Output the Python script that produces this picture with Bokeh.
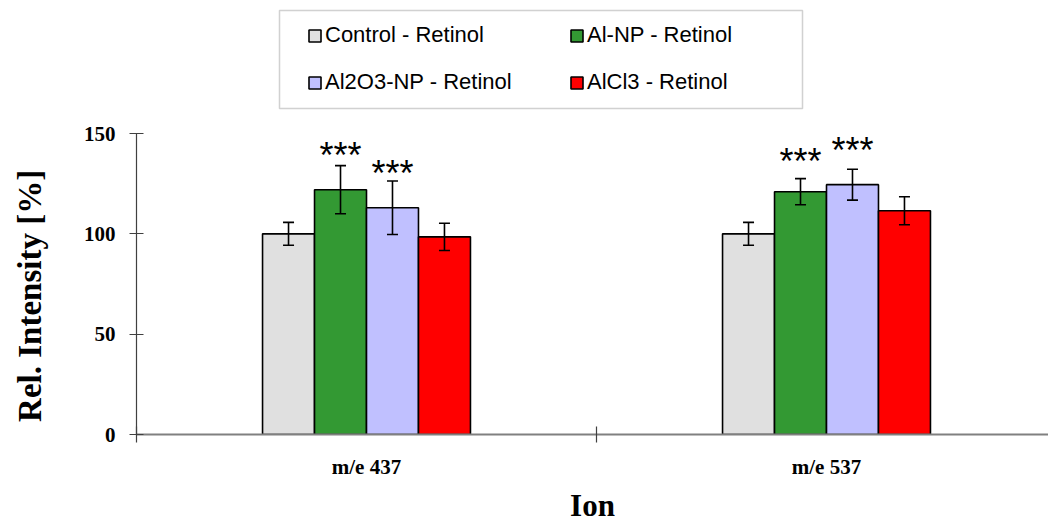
from bokeh.plotting import figure
from bokeh.models import (ColumnDataSource, Range1d, LinearAxis, FixedTicker, Whisker, TeeHead,
                          Legend, LegendItem, BoxAnnotation)
from bokeh.core.properties import value
from bokeh.embed import file_html
from bokeh.resources import INLINE

# ---------------- data ----------------
categories = ["m/e 437", "m/e 537"]
series_names = ["Control - Retinol", "Al-NP - Retinol", "Al2O3-NP - Retinol", "AlCl3 - Retinol"]
control_vals = [100.0, 100.0]
alnp_vals = [122.0, 121.0]
al2o3_vals = [113.0, 124.5]
alcl3_vals = [98.5, 111.5]
control_err = [5.7, 5.7]
alnp_err = [12.0, 6.5]
al2o3_err = [13.3, 7.7]
alcl3_err = [6.8, 7.0]
# significance marks: (category index, series index, label, height of mark centre)
sig_cat = [0, 0, 1, 1]
sig_series = [1, 2, 1, 2]
sig_text = ["***", "***", "***", "***"]
sig_y = [141.5, 132.5, 138.3, 144.0]
y_ticks = [0, 50, 100, 150]
legend_order = [0, 2, 1, 3]   # legend is filled column by column

colors = ["#E0E0E0", "#339933", "#C0C0FF", "#FF0000"]
values = [control_vals, alnp_vals, al2o3_vals, alcl3_vals]
errors = [control_err, alnp_err, al2o3_err, alcl3_err]

BAR_W = 0.113
SERIF = "Liberation Serif"
SANS = "Liberation Sans"
Y_MAX = y_ticks[-1]
Y_END = Y_MAX * 434 / 301.0   # frame spans the full top so the legend box is not clipped

p = figure(width=1048, height=525, output_backend="svg", toolbar_location=None,
           x_range=Range1d(0, 912 / 460), y_range=Range1d(0, Y_END),
           min_border_left=136, min_border_right=0, min_border_top=0, min_border_bottom=91,
           x_axis_type=None, y_axis_type=None)
p.outline_line_color = None
p.grid.visible = False
p.background_fill_color = "white"
p.border_fill_color = "white"

def xpos(ci, si):
    return ci + 0.5 + (si - 1.5) * BAR_W

items = []
for si, (name, vals, errs, col) in enumerate(zip(series_names, values, errors, colors)):
    xs = [xpos(ci, si) for ci in range(len(categories))]
    src = ColumnDataSource(dict(x=xs, top=vals,
                                upper=[v + e for v, e in zip(vals, errs)],
                                lower=[v - e for v, e in zip(vals, errs)]))
    r = p.vbar(x="x", top="top", bottom=0, width=BAR_W, source=src,
               fill_color=col, line_color="black", line_width=1.6)
    w = Whisker(base="x", upper="upper", lower="lower", source=src, level="overlay",
                line_color="black", line_width=1.6,
                upper_head=TeeHead(size=11, line_width=1.6, line_color="black"),
                lower_head=TeeHead(size=11, line_width=1.6, line_color="black"))
    p.add_layout(w)
    items.append(LegendItem(label=name, renderers=[r]))

# significance stars
star_src = ColumnDataSource(dict(x=[xpos(c, s) for c, s in zip(sig_cat, sig_series)],
                                 y=sig_y, t=sig_text))
p.text(x="x", y="y", text="t", source=star_src, text_font=value(SANS),
       text_font_size="36px", text_align="center", text_baseline="middle",
       text_color="black", y_offset=5)

# y axis (non-breaking spaces shift the centred title down to the value range)
yaxis = LinearAxis(ticker=FixedTicker(ticks=y_ticks, minor_ticks=[]),
                   axis_label="Rel. Intensity [%]" + "\u00a0" * 19, bounds=(0, Y_MAX))
yaxis.axis_line_color = "#404040"
yaxis.axis_line_width = 1.2
yaxis.major_tick_in = 7
yaxis.major_tick_out = 7
yaxis.major_tick_line_color = "#404040"
yaxis.minor_tick_line_color = None
yaxis.major_label_text_font = SERIF
yaxis.major_label_text_font_style = "bold"
yaxis.major_label_text_font_size = "21px"
yaxis.major_label_text_color = "black"
yaxis.major_label_standoff = 14
yaxis.axis_label_text_font = SERIF
yaxis.axis_label_text_font_style = "bold"
yaxis.axis_label_text_font_size = "33px"
yaxis.axis_label_text_color = "black"
yaxis.axis_label_standoff = 33
p.add_layout(yaxis, "left")

# x axis
xaxis = LinearAxis(ticker=FixedTicker(ticks=[i + 0.5 for i in range(len(categories))],
                                      minor_ticks=[float(i) for i in range(len(categories) + 1)]),
                   axis_label="Ion")
xaxis.major_label_overrides = {i + 0.5: c for i, c in enumerate(categories)}
xaxis.axis_line_color = "#808080"
xaxis.axis_line_width = 2
xaxis.major_tick_line_color = None
xaxis.major_tick_in = 0
xaxis.major_tick_out = 0
xaxis.minor_tick_line_color = "#404040"
xaxis.minor_tick_line_width = 1.2
xaxis.minor_tick_in = 8
xaxis.minor_tick_out = 8
xaxis.major_label_text_font = SERIF
xaxis.major_label_text_font_style = "bold"
xaxis.major_label_text_font_size = "21px"
xaxis.major_label_text_color = "black"
xaxis.major_label_standoff = 12
xaxis.axis_label_text_font = SERIF
xaxis.axis_label_text_font_style = "bold"
xaxis.axis_label_text_font_size = "31px"
xaxis.axis_label_text_color = "black"
xaxis.axis_label_standoff = 6
p.add_layout(xaxis, "below")

# legend
legend = Legend(items=[items[i] for i in legend_order], ncols=2, location=(171, 328.5),
                padding=0, margin=0, spacing=0,
                glyph_width=15, glyph_height=15, label_standoff=3,
                label_width=244, label_height=47,
                label_text_font=SANS, label_text_font_size="22px",
                label_text_color="black",
                border_line_color=None, background_fill_alpha=0)
p.add_layout(legend, "center")

box = BoxAnnotation(left=279, right=802, top=10, bottom=108,
                    left_units="canvas", right_units="canvas",
                    top_units="canvas", bottom_units="canvas",
                    fill_alpha=0, line_color="#666666", line_width=1.5, level="overlay")
p.add_layout(box)

open("out.html", "w").write(file_html(p, INLINE))
